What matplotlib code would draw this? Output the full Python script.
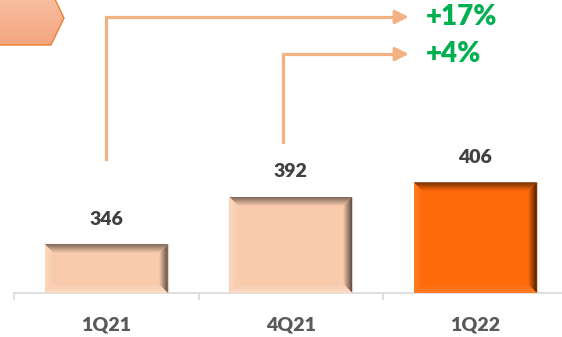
import numpy as np
import matplotlib.pyplot as plt
from matplotlib.patches import Polygon
from matplotlib.colors import LinearSegmentedColormap

# Data
quarters = ['1Q21', '4Q21', '1Q22']
values = [346, 392, 406]
growth_labels = ['+17%', '+4%']   # 1Q21 -> 1Q22, 4Q21 -> 1Q22
growth_from = [0, 1]

plt.rcParams['font.family'] = ['Lato', 'DejaVu Sans']
FW = 800

fig = plt.figure(figsize=(5.62, 3.37), dpi=100)
W, H = 562, 337
ax = fig.add_axes([14 / W, 44 / H, 553.5 / W, 293 / H])
ylo, yhi = 298.5, 583

# face, outer top, outer right, left, bottom
styles = {
    'light': ['#F8CBAD', '#7E6658', '#5E4C42', '#FAD6BE', '#FCDCC6'],
    'dark': ['#FF6A0A', '#6E2F00', '#4A1E00', '#FF7C26', '#FF7E2A'],
}

bar_w = 0.667
bars = ax.bar(range(len(values)), values, width=bar_w, bottom=0,
              color=[styles['light'][0], styles['light'][0], styles['dark'][0]],
              edgecolor='#E2D2C8', linewidth=0.8, zorder=2)


def grad_poly(ax, pts, c0, c1, direction):
    # fill polygon with a linear gradient from c0 (outer) to c1 (inner)
    pts = np.array(pts)
    x0, x1 = pts[:, 0].min(), pts[:, 0].max()
    y0, y1 = pts[:, 1].min(), pts[:, 1].max()
    cmap = LinearSegmentedColormap.from_list('g', [c0, c1])
    g = np.linspace(0, 1, 64)
    if direction == 'top':
        arr = np.repeat(g[:, None], 2, axis=1)
    elif direction == 'bottom':
        arr = np.repeat(g[::-1][:, None], 2, axis=1)
    elif direction == 'right':
        arr = np.repeat(g[::-1][None, :], 2, axis=0)
    else:
        arr = np.repeat(g[None, :], 2, axis=0)
    poly = Polygon(pts, closed=True, facecolor='none', edgecolor='none')
    ax.add_patch(poly)
    im = ax.imshow(arr, cmap=cmap, extent=[x0, x1, y0, y1], origin='upper',
                   aspect='auto', zorder=3, interpolation='bilinear')
    im.set_clip_path(poly)


# bevel size in pixels converted to data units
px_x = 3.0 / 553.5
px_y = (yhi - ylo) / 293
bx = 9 * px_x
by = 9 * px_y
for i, b in enumerate(bars):
    st = styles['dark'] if i == 2 else styles['light']
    l = b.get_x()
    r = l + b.get_width()
    t = values[i]
    face = st[0]
    grad_poly(ax, [(l, t), (r, t), (r - bx, t - by), (l + bx, t - by)], st[1], face, 'top')
    grad_poly(ax, [(r, t), (r, ylo), (r - bx, ylo + by), (r - bx, t - by)], st[2], face, 'right')
    grad_poly(ax, [(l, t), (l + bx, t - by), (l + bx, ylo + by), (l, ylo)], st[3], face, 'left')
    grad_poly(ax, [(l, ylo), (l + bx, ylo + by), (r - bx, ylo + by), (r, ylo)], st[4], face, 'bottom')
    ax.annotate(str(values[i]), (i, t), xytext=(0, 18), textcoords='offset points',
                ha='center', va='center', fontsize=14, fontweight=FW, color='#404040')

ax.set_xlim(-0.5, 2.5)
ax.set_ylim(ylo, yhi)

# growth arrows
line_c = '#F4B183'
arrow_y = [566.5, 530.5]
arrow_bottom = [428.5, 445]
x_off = [0, -0.04]
x_tip = 1.64
for k, src in enumerate(growth_from):
    xs = src + x_off[k]
    ax.plot([xs, xs, x_tip - 0.06], [arrow_bottom[k], arrow_y[k], arrow_y[k]],
            color=line_c, lw=2.3, solid_joinstyle='miter', zorder=4)
    ax.annotate('', xy=(x_tip, arrow_y[k]), xytext=(x_tip - 0.08, arrow_y[k]),
                arrowprops=dict(arrowstyle='-|>,head_length=0.8,head_width=0.4',
                                color=line_c, lw=2.3, shrinkA=0, shrinkB=0), zorder=4)
    ax.text(x_tip + 0.09, arrow_y[k], growth_labels[k], ha='left', va='center',
            fontsize=20, fontweight=FW, color='#00B050')

# axis styling
for s in ['top', 'left', 'right']:
    ax.spines[s].set_visible(False)
ax.spines['bottom'].set_color('#D9D9D9')
ax.spines['bottom'].set_linewidth(1.2)
ax.set_yticks([])
ax.set_xticks(range(len(quarters)))
ax.set_xticklabels(quarters, fontsize=14, fontweight=FW, color='#595959')
ax.tick_params(axis='x', which='major', length=0, pad=17)
ax.set_xticks([-0.5, 0.5, 1.5, 2.5], minor=True)
ax.tick_params(axis='x', which='minor', length=5, color='#D9D9D9', width=1.2)
ax.patch.set_alpha(0)

# tag shape in top-left corner
tag = fig.add_axes([0, 0, 1, 1], zorder=9)
tag.axis('off')
tag_pts = [(-2, -9), (51, -9), (64, 18), (51, 45), (-2, 45)]
tpoly = Polygon(tag_pts, closed=True, facecolor='none', edgecolor='#ED7D31', lw=1.0, zorder=3)
tag.add_patch(tpoly)
cm = LinearSegmentedColormap.from_list('t', ['#F8C3A6', '#F4A57F'])
tim = tag.imshow(np.linspace(0, 1, 64)[:, None].repeat(2, axis=1), cmap=cm,
                 extent=[-2, 64, 45, -9], origin='upper', aspect='auto', zorder=2)
tim.set_clip_path(tpoly)
tag.set_xlim(0, W)
tag.set_ylim(H, 0)

fig.savefig('out.png', dpi=100)
